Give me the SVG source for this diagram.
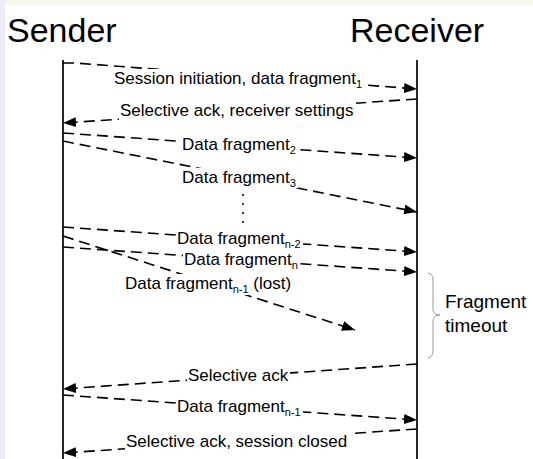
<svg xmlns="http://www.w3.org/2000/svg" width="533" height="459" viewBox="0 0 533 459">
<defs>
<marker id="ah" markerUnits="userSpaceOnUse" markerWidth="14" markerHeight="10" refX="13" refY="5" orient="auto">
<path d="M0,0 L13,5 L0,10 z" fill="#000"/>
</marker>
<style>
.life{stroke:#000;stroke-width:1.7;fill:none}
.msg{stroke:#000;stroke-width:1.6;fill:none;stroke-dasharray:11 6;marker-end:url(#ah)}
.bg{fill:#fff}
.lbl{font-family:"Liberation Sans",Arial,sans-serif;font-size:17px;fill:#000}
.title{font-family:"Liberation Sans",Arial,sans-serif;font-size:34px;fill:#000}
.side{font-family:"Liberation Sans",Arial,sans-serif;font-size:19px;fill:#000}
.sub{font-size:11px}
</style>
</defs>
<rect width="533" height="459" fill="#fff"/>
<rect x="0" y="0" width="533" height="5" fill="#f7f7ee"/>
<rect x="0" y="0" width="5" height="459" fill="#ececf8"/>

<g id="sender">
<text class="title" x="7" y="42">Sender</text>
<line class="life" x1="63" y1="60" x2="63" y2="459"/>
</g>
<g id="receiver">
<text class="title" x="350" y="42">Receiver</text>
<line class="life" x1="417" y1="60" x2="417" y2="459"/>
</g>

<g id="connectors">
<path class="msg" d="M63,63 L75,63 L417,89"/>
<line class="msg" x1="417" y1="99" x2="63" y2="123"/>
<line class="msg" x1="63" y1="133" x2="417" y2="158"/>
<line class="msg" x1="63" y1="141" x2="417" y2="212"/>
<line class="msg" x1="63" y1="227" x2="417" y2="252"/>
<line class="msg" x1="63" y1="247" x2="417" y2="272"/>
<line class="msg" x1="63" y1="236" x2="355" y2="330"/>
<line class="msg" x1="417" y1="364" x2="63" y2="389"/>
<line class="msg" x1="63" y1="395" x2="417" y2="420"/>
<line class="msg" x1="417" y1="429" x2="63" y2="453"/>
</g>

<g id="labels">
<rect class="bg" x="113" y="69" width="251" height="20"/>
<text class="lbl" x="114" y="84">Session initiation, data fragment<tspan class="sub" dy="4">1</tspan></text>
<rect class="bg" x="119" y="101" width="237" height="20"/>
<text class="lbl" x="120" y="116">Selective ack, receiver settings</text>
<rect class="bg" x="181" y="135" width="117" height="20"/>
<text class="lbl" x="182" y="150">Data fragment<tspan class="sub" dy="4">2</tspan></text>
<rect class="bg" x="181" y="168" width="117" height="20"/>
<text class="lbl" x="182" y="183">Data fragment<tspan class="sub" dy="4">3</tspan></text>
<rect class="bg" x="176" y="229" width="127" height="20"/>
<text class="lbl" x="177" y="244">Data fragment<tspan class="sub" dy="4">n-2</tspan></text>
<rect class="bg" x="183" y="250" width="117" height="20"/>
<text class="lbl" x="184" y="265">Data fragment<tspan class="sub" dy="4">n</tspan></text>
<rect class="bg" x="124" y="274" width="169" height="21"/>
<text class="lbl" x="125" y="289">Data fragment<tspan class="sub" dy="4">n-1</tspan><tspan dy="-4"> (lost)</tspan></text>
<rect class="bg" x="187" y="366" width="103" height="20"/>
<text class="lbl" x="188" y="381">Selective ack</text>
<rect class="bg" x="176" y="397" width="127" height="20"/>
<text class="lbl" x="177" y="412">Data fragment<tspan class="sub" dy="4">n-1</tspan></text>
<rect class="bg" x="125" y="432" width="225" height="20"/>
<text class="lbl" x="126" y="447">Selective ack, session closed</text>
</g>

<g id="dots" fill="#000">
<circle cx="243" cy="195" r="1"/>
<circle cx="243" cy="204" r="1"/>
<circle cx="243" cy="213" r="1"/>
<circle cx="243" cy="222" r="1"/>
</g>

<g id="timeout">
<path d="M428,273 Q433,274 433,280 L433,309 Q433,315 440,315 Q433,315 433,321 L433,351 Q433,357 428,358" fill="none" stroke="#999" stroke-width="1"/>
<text class="side" x="445" y="308">Fragment</text>
<text class="side" x="445" y="332">timeout</text>
</g>
</svg>
